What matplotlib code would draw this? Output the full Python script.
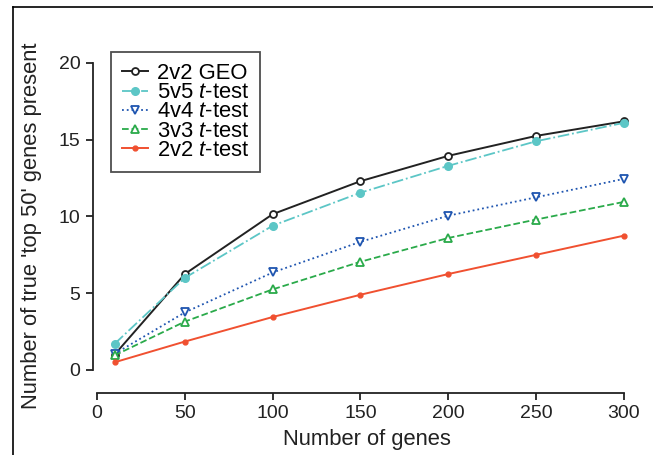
import matplotlib
matplotlib.use("Agg")
import matplotlib.pyplot as plt
from matplotlib.lines import Line2D

plt.rcParams['font.family'] = ['Liberation Sans', 'DejaVu Sans']
plt.rcParams['mathtext.fontset'] = 'custom'
plt.rcParams['mathtext.rm'] = 'Liberation Sans'
plt.rcParams['mathtext.it'] = 'Liberation Sans:italic'

# 数据
n_genes = [10, 50, 100, 150, 200, 250, 300]
geo_2v2 = [1.0, 6.25, 10.15, 12.3, 13.95, 15.25, 16.2]
t_5v5 = [1.7, 6.0, 9.4, 11.55, 13.3, 14.9, 16.1]
t_4v4 = [1.05, 3.75, 6.35, 8.35, 10.05, 11.25, 12.45]
t_3v3 = [0.95, 3.15, 5.25, 7.05, 8.6, 9.8, 10.95]
t_2v2 = [0.5, 1.85, 3.45, 4.9, 6.25, 7.5, 8.75]

labels = ['2v2 GEO', r'5v5 $\it{t}$-test', r'4v4 $\it{t}$-test',
          r'3v3 $\it{t}$-test', r'2v2 $\it{t}$-test']
x_ticks = [0, 50, 100, 150, 200, 250, 300]
y_ticks = [0, 5, 10, 15, 20]

fig = plt.figure(figsize=(6.53, 4.55), dpi=100)
ax = fig.add_axes([0.1424, 0.1363, 0.840, 0.7354])

ax.plot(n_genes, geo_2v2, color='#222222', lw=1.4, ls='-', marker='o', ms=5,
        mfc='white', mec='#222222', mew=1.3, label=labels[0])
ax.plot(n_genes, t_5v5, color='#5cc6c6', lw=1.3, ls='-.', marker='o', ms=5.5,
        mfc='#5cc6c6', mec='#5cc6c6', label=labels[1])
ax.plot(n_genes, t_4v4, color='#1f55b0', lw=1.3, ls=':', marker='v', ms=6,
        mfc='white', mec='#1f55b0', mew=1.3, label=labels[2])
ax.plot(n_genes, t_3v3, color='#2aaa4a', lw=1.3, ls='--', marker='^', ms=6,
        mfc='white', mec='#2aaa4a', mew=1.3, label=labels[3])
ax.plot(n_genes, t_2v2, color='#f05030', lw=1.4, ls='-', marker='o', ms=3.5,
        mfc='#f05030', mec='#f05030', label=labels[4])

ax.set_xlim(-2.3, 310)
ax.set_ylim(-1.5, 20.3)
ax.set_xticks(x_ticks)
ax.set_yticks(y_ticks)
ax.spines['top'].set_visible(False)
ax.spines['right'].set_visible(False)
ax.spines['left'].set_bounds(0, 20)
ax.spines['bottom'].set_bounds(0, 300)
for s in ('left', 'bottom'):
    ax.spines[s].set_linewidth(1.3)
    ax.spines[s].set_color('#222222')
ax.tick_params(axis='both', labelsize=14, length=5, width=1.3, pad=4,
               color='#222222', labelcolor='#222222')

ax.set_xlabel('Number of genes', fontsize=15.8, color='#222222', labelpad=5)
ax.set_ylabel("Number of true 'top 50' genes present", fontsize=15.8,
              color='#222222', labelpad=12)

leg = ax.legend(loc='upper left', bbox_to_anchor=(111 / 653, 1 - 52 / 455),
                bbox_transform=fig.transFigure, fontsize=15.8, frameon=True,
                fancybox=False, handlelength=1.2, handletextpad=0.4,
                labelspacing=-0.08, borderpad=0.5, borderaxespad=0)
leg.get_frame().set_edgecolor('#222222')
leg.get_frame().set_linewidth(1.3)

# 外框
fig.add_artist(Line2D([13 / 653, 1.0], [1 - 7 / 455, 1 - 7 / 455],
                      transform=fig.transFigure, color='black', lw=1.2))
fig.add_artist(Line2D([13 / 653, 13 / 653], [0, 1 - 7 / 455],
                      transform=fig.transFigure, color='black', lw=1.2))

plt.savefig('out.png', dpi=100)
